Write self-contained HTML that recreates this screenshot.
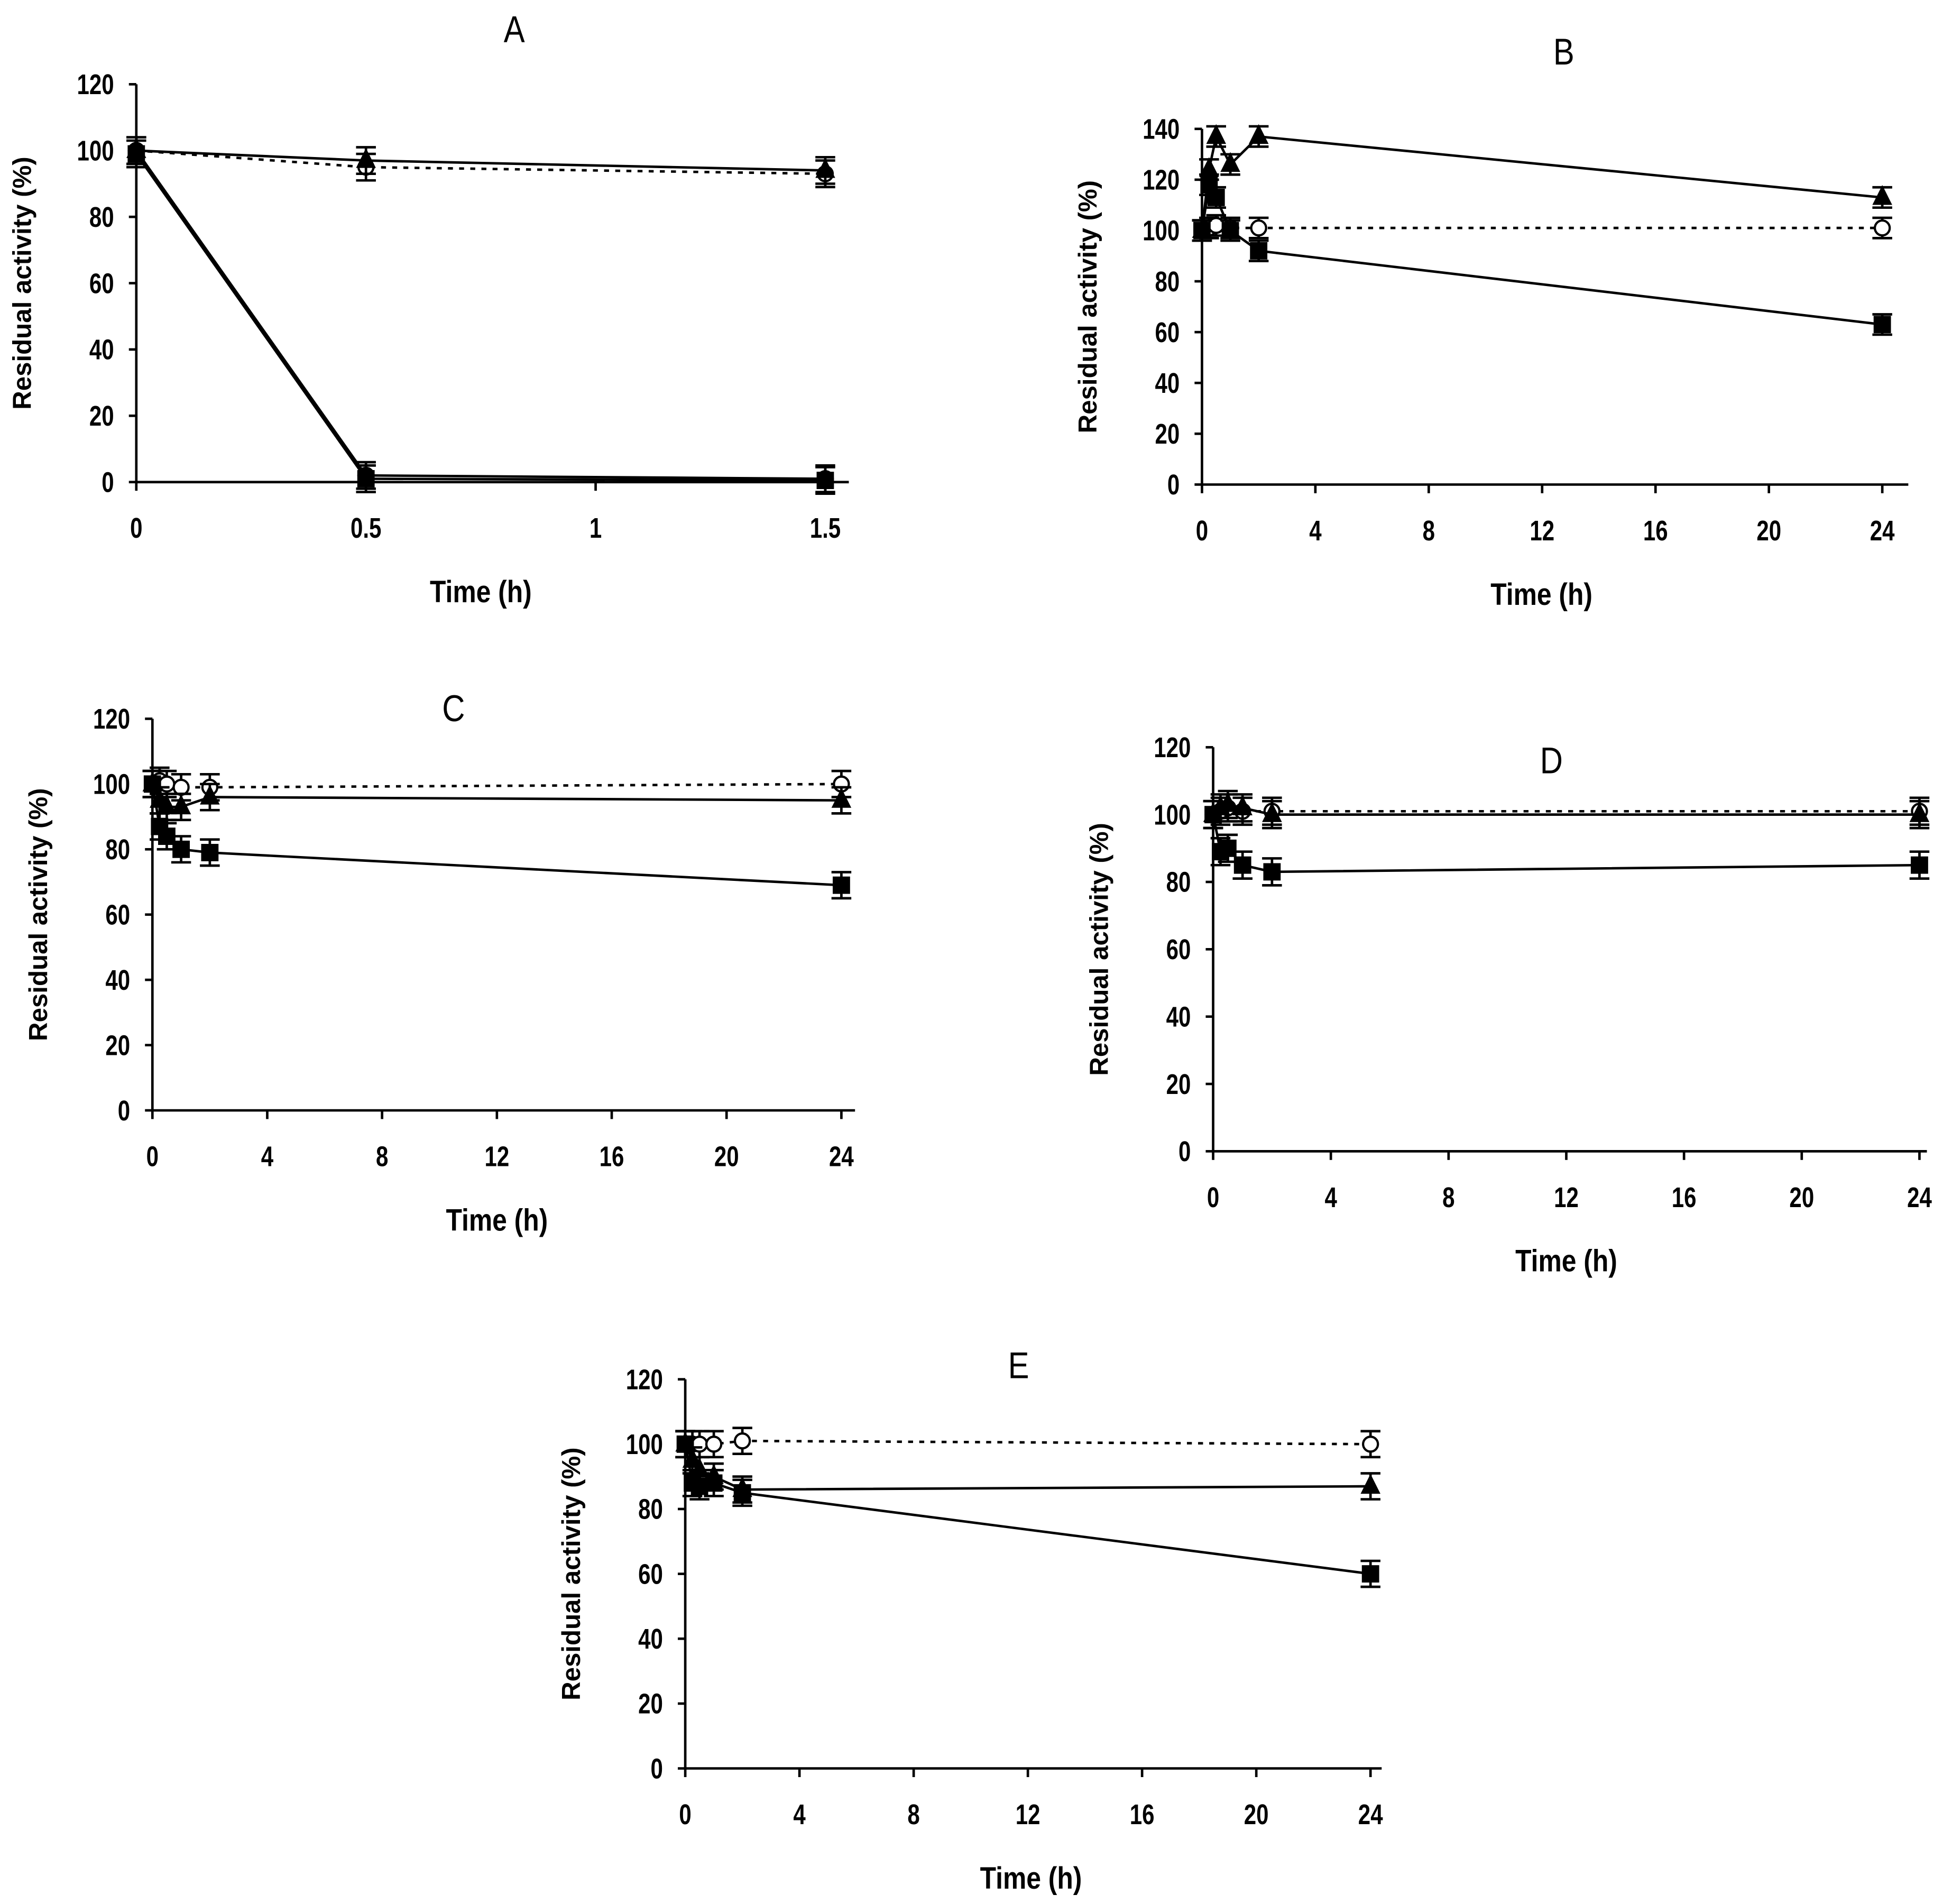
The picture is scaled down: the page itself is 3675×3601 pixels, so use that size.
<!DOCTYPE html>
<html><head><meta charset="utf-8"><style>html,body{margin:0;padding:0;background:#fff}svg{display:block}text{font-family:"Liberation Sans",sans-serif;fill:#000}</style></head>
<body>
<svg id="fig" xmlns="http://www.w3.org/2000/svg" width="3675" height="3601" viewBox="0 0 1568 1536.4" preserveAspectRatio="none"></svg>
<script>
// Panel A
const aTimes=[0,0.5,1.5];
const aCircle=[100,95,93];
const aTri=[100,97,94];
const aSquare=[99,1,0.5];
const aDot=[100,2,1];
const aXTicks=[0,0.5,1,1.5];
// Panel B
const bTimes=[0,0.25,0.5,1,2,24];
const bCircle=[100,101,102,101,101,101];
const bTri=[100,124,137,126,137,113];
const bSquare=[100,118,113,100,92,63];
// Panel C
const cTimes=[0,0.25,0.5,1,2,24];
const cCircle=[100,101,100,99,99,100];
const cTri=[100,95,93,93,96,95];
const cSquare=[100,87,84,80,79,69];
// Panel D
const dTimes=[0,0.25,0.5,1,2,24];
const dCircle=[100,101,102,101,101,101];
const dTri=[100,102,103,102,100,100];
const dSquare=[100,89,90,85,83,85];
// Panel E
const eTimes=[0,0.25,0.5,1,2,24];
const eCircle=[100,100,100,100,101,100];
const eTri=[100,95,92,90,86,87];
const eSquare=[100,88,87,88,85,60];
const hTicks=[0,4,8,12,16,20,24];
const y120=[0,20,40,60,80,100,120];
const y140=[0,20,40,60,80,100,120,140];

const svg=document.getElementById('fig');
const NS='http://www.w3.org/2000/svg';
function mk(tag,attrs,parent,name){const e=document.createElementNS(NS,tag);for(const k in attrs)e.setAttribute(k,attrs[k]);


(parent||svg).appendChild(e);return e;}
function ctext(g,x,y,str,size,anchor,weight,name,sc){
  const t=mk('text',{x:0,y:0,'text-anchor':anchor,'font-size':size,'font-weight':weight,transform:`translate(${x},${y}) scale(${sc},1)`},g,name);
  t.textContent=str;return t;}
function panel(p){
  const g=mk('g',{},svg,'panel-'+p.id);
  const sx=v=>p.x0+(v-p.xmin)/(p.xmax-p.xmin)*(p.x1-p.x0);
  const sy=v=>p.yb-(v/p.ymax)*(p.yb-p.yt);
  mk('line',{x1:p.x0,y1:p.yt,x2:p.x0,y2:p.yb,stroke:'#000','stroke-width':2},g,'y-axis');
  mk('line',{x1:p.x0,y1:p.yb,x2:p.xe,y2:p.yb,stroke:'#000','stroke-width':2},g,'x-axis');
  p.yt_.forEach(v=>{mk('line',{x1:p.x0-6,y1:sy(v),x2:p.x0,y2:sy(v),stroke:'#000','stroke-width':2},g,'y-tick');
    ctext(g,p.x0-18,sy(v)+8,v,23,'end','bold','y-tick-label',0.78);});
  p.xt_.forEach(v=>{mk('line',{x1:sx(v),y1:p.yb,x2:sx(v),y2:p.yb+7,stroke:'#000','stroke-width':2},g,'x-tick');
    ctext(g,sx(v),p.yb+45,v,23,'middle','bold','x-tick-label',0.78);});
  ctext(g,p.tx,p.ty,p.id,30,'middle','normal','panel-title',0.85);
  ctext(g,p.lx,p.yb+97,'Time (h)',25,'middle','bold','x-axis-title',0.85);
  const ym=(p.yt+p.yb)/2;
  const t=mk('text',{x:p.x0-85,y:ym,'text-anchor':'middle','font-size':21,'font-weight':'bold',transform:`rotate(-90 ${p.x0-85} ${ym})`},g,'y-axis-title');t.textContent='Residual activity (%)';
  p.series.forEach(s=>{
    const pts=s.v.map((v,i)=>sx(p.t[i])+','+sy(v)).join(' ');
    mk('polyline',{points:pts,fill:'none',stroke:'#000','stroke-width':2,'stroke-dasharray':s.dash?'4,5':'none'},g,s.name+'-line');
    s.v.forEach((v,i)=>{const X=sx(p.t[i]),Y=sy(v),e=(p.yb-p.yt)/p.ymax*4;
      mk('path',{d:`M${X},${Y-e}V${Y+e}M${X-8},${Y-e}H${X+8}M${X-8},${Y+e}H${X+8}`,stroke:'#000','stroke-width':2},g,s.name+'-error-bar');
      if(s.m==='c')mk('circle',{cx:X,cy:Y,r:6,fill:'#fff',stroke:'#000','stroke-width':1.8},g,s.name+'-point');
      else if(s.m==='t')mk('path',{d:`M${X},${Y-10}L${X+8},${Y+6}L${X-8},${Y+6}Z`,fill:'#000'},g,s.name+'-point');
      else if(s.m==='s')mk('rect',{x:X-7,y:Y-7,width:14,height:14,fill:'#000'},g,s.name+'-point');
      else mk('circle',{cx:X,cy:Y,r:7,fill:'#000'},g,s.name+'-point');
    });
  });
}
const S=(c,t,s)=>[{name:'control-open-circle',m:'c',v:c,dash:true},{name:'triangle-series',m:'t',v:t},{name:'square-series',m:'s',v:s}];
panel({id:'A',x0:110,x1:666,xe:685,xmin:0,xmax:1.5,yt:68,yb:389,ymax:120,yt_:y120,xt_:aXTicks,t:aTimes,tx:415,ty:34,lx:388,
  series:[...S(aCircle,aTri,aSquare),{name:'filled-circle-series',m:'d',v:aDot}]});
panel({id:'B',x0:970,x1:1519,xe:1540,xmin:0,xmax:24,yt:104,yb:391,ymax:140,yt_:y140,xt_:hTicks,t:bTimes,tx:1262,ty:52,lx:1244,series:S(bCircle,bTri,bSquare)});
panel({id:'C',x0:123,x1:679,xe:690,xmin:0,xmax:24,yt:580,yb:896,ymax:120,yt_:y120,xt_:hTicks,t:cTimes,tx:366,ty:582,lx:401,series:S(cCircle,cTri,cSquare)});
panel({id:'D',x0:979,x1:1549,xe:1555,xmin:0,xmax:24,yt:603,yb:929,ymax:120,yt_:y120,xt_:hTicks,t:dTimes,tx:1252,ty:624,lx:1264,series:S(dCircle,dTri,dSquare)});
panel({id:'E',x0:553,x1:1106,xe:1115,xmin:0,xmax:24,yt:1113,yb:1427,ymax:120,yt_:y120,xt_:hTicks,t:eTimes,tx:822,ty:1112,lx:832,series:S(eCircle,eTri,eSquare)});
</script>
</body></html>
